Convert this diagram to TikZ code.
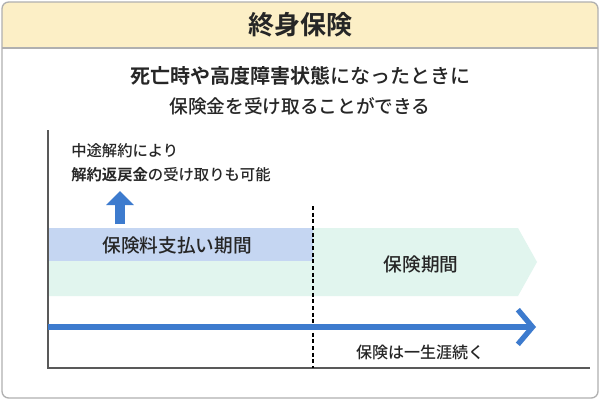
\documentclass[tikz,border=0pt]{standalone}
\usepackage{fontspec}
\setmainfont{Noto Sans CJK JP Medium}
\newfontfamily\bld{Noto Sans CJK JP Bold}
\usetikzlibrary{arrows.meta}
\definecolor{hdr}{HTML}{FCEFC6}
\definecolor{frame}{HTML}{B0B0B0}
\definecolor{bluebar}{HTML}{C5D6F2}
\definecolor{mint}{HTML}{E1F5EE}
\definecolor{arr}{HTML}{3D7BCE}
\tikzset{txt/.style={inner sep=0pt,text=black!85}}
\begin{document}
\begin{tikzpicture}[x=0.75pt,y=-0.75pt]
\useasboundingbox (0,0) rectangle (600,400);
\fill[white] (0,0) rectangle (600,400);
\begin{scope}
\clip[rounded corners=5pt] (2,2) rectangle (598,398);
\fill[hdr] (2,2) rectangle (598,48);
\end{scope}
\draw[frame,line width=1pt,rounded corners=5pt] (2,2) rectangle (598,398);
\draw[frame,line width=1pt] (2,48) -- (598,48);
\node[txt,font=\bld\fontsize{19.5}{22}\selectfont] (title) at (300,25) {終身保険};
\node[txt,font=\fontsize{15}{18}\selectfont] (l1) at (300,76) {{\bld 死亡時や高度障害状態}になったときに};
\node[txt,font=\fontsize{14}{17}\selectfont] (l2) at (300,106) {保険金を受け取ることができる};
% shapes
\fill[mint] (48,228) -- (518,228) -- (537,262) -- (518,296) -- (48,296) -- cycle;
\fill[bluebar] (48,228) rectangle (313,261);
\node[txt,font=\fontsize{14}{17}\selectfont] (pay) at (177,245) {保険料支払い期間};
\node[txt,font=\fontsize{14}{17}\selectfont] (cov) at (421,264) {保険期間};
% axes
\coordinate (top) at (48,130);
\coordinate (origin) at (48,368);
\coordinate (right) at (590,368);
\draw[black!65,line width=1.5pt] (top) -- (origin) -- (right);
% dashed
\coordinate (d1) at (313,206);
\coordinate (d2) at (313,368);
\draw[black,line width=2pt,dash pattern=on 3pt off 2pt] (d1) -- (d2);
% texts
\node[txt,anchor=west,font=\fontsize{11.5}{14}\selectfont] (m1) at (71,151) {中途解約により};
\node[txt,anchor=west,font=\fontsize{11.5}{14}\selectfont] (m2) at (71,175) {{\bld 解約返戻金}の受け取りも可能};
% up arrow
\coordinate (ua) at (120,224);
\coordinate (ub) at (120,191);
\draw[arr,line width=7.5pt,-{Triangle[length=10.5pt,width=20pt]}] (ua) -- (ub);
% long arrow
\coordinate (la) at (48,327);
\coordinate (lb) at (536,327);
\draw[arr,line width=4pt,-{Straight Barb[length=11pt,width=26pt,line width=4pt]}] (la) -- (lb);
\node[txt,font=\fontsize{12}{14}\selectfont] (life) at (420,352) {保険は一生涯続く};
\end{tikzpicture}
\end{document}
